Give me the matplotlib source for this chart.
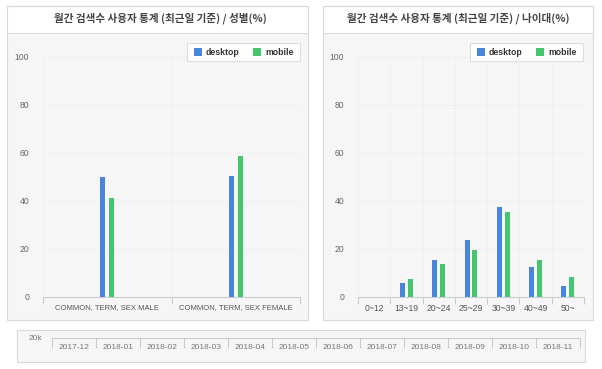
import matplotlib
matplotlib.use("Agg")
import matplotlib.pyplot as plt
from matplotlib.patches import Rectangle
import numpy as np

# ---------------- data ----------------
gender_categories = ["COMMON, TERM, SEX MALE", "COMMON, TERM, SEX FEMALE"]
gender_desktop = [50.0, 50.4]
gender_mobile = [41.3, 58.7]

age_categories = ["0~12", "13~19", "20~24", "25~29", "30~39", "40~49", "50~"]
age_desktop = [0.0, 6.0, 15.4, 23.8, 37.4, 12.6, 4.6]
age_mobile = [0.0, 7.6, 13.6, 19.6, 35.3, 15.4, 8.2]

months = ["2017-12", "2018-01", "2018-02", "2018-03", "2018-04", "2018-05",
          "2018-06", "2018-07", "2018-08", "2018-09", "2018-10", "2018-11"]
nav_label = "20k"

series_names = ["desktop", "mobile"]
yticks = [0, 20, 40, 60, 80, 100]

title_gender = "월간 검색수 사용자 통계 (최근일 기준) / 성별(%)"
title_age = "월간 검색수 사용자 통계 (최근일 기준) / 나이대(%)"

# ---------------- style ----------------
BLUE = "#4a85dc"
GREEN = "#45c66e"
BORDER = "#d9d9d9"
BODY = "#f6f6f6"
TXT = "#666666"
W, H = 602, 369

plt.rcParams['font.family'] = ['Noto Sans CJK KR', 'DejaVu Sans']

fig = plt.figure(figsize=(W / 100, H / 100), dpi=100)
fig.patch.set_facecolor("white")


def fr(x0, y0, x1, y1):
    """pixel box (top-left origin) -> figure fraction rect"""
    return [x0 / W, 1 - y1 / H, (x1 - x0) / W, (y1 - y0) / H]


def card(x0, y0, x1, y1, header=None):
    r = fr(x0 + 1, y0 + 1, x1 + 1, y1 + 1)
    fig.patches.append(Rectangle((r[0], r[1]), r[2], r[3], transform=fig.transFigure,
                                 facecolor="#ececec", edgecolor="none", zorder=-3))
    r = fr(x0, y0, x1, y1)
    fig.patches.append(Rectangle((r[0], r[1]), r[2], r[3], transform=fig.transFigure,
                                 facecolor=BODY, edgecolor=BORDER, lw=0.8, zorder=-2))
    if header is not None:
        r = fr(x0, y0, x1, header)
        fig.patches.append(Rectangle((r[0], r[1]), r[2], r[3], transform=fig.transFigure,
                                     facecolor="white", edgecolor=BORDER, lw=0.8, zorder=-1))


def legend(x0, y0):
    r = fr(x0, y0, x0 + 113, y0 + 18)
    fig.patches.append(Rectangle((r[0], r[1]), r[2], r[3], transform=fig.transFigure,
                                 facecolor="white", edgecolor="#dddddd", lw=0.8, zorder=5))
    items = [(BLUE, series_names[0], 7), (GREEN, series_names[1], 66)]
    for col, name, dx in items:
        r = fr(x0 + dx, y0 + 5, x0 + dx + 8, y0 + 13)
        fig.patches.append(Rectangle((r[0], r[1]), r[2], r[3], transform=fig.transFigure,
                                     facecolor=col, edgecolor="none", zorder=6))
        fig.text((x0 + dx + 12) / W, 1 - (y0 + 9.5) / H, name, fontsize=6.3,
                 fontweight="bold", color="#333333", va="center", ha="left",
                 family=["Liberation Sans", "DejaVu Sans"], zorder=7)


def bar_panel(rect, cats, d, m, width, offset, cat_fs):
    ax = fig.add_axes(rect)
    ax.set_zorder(1)
    ax.set_facecolor("none")
    n = len(cats)
    x = np.arange(n)
    ax.bar(x - offset, d, width=width, color=BLUE, zorder=3)
    ax.bar(x + offset, m, width=width, color=GREEN, zorder=3)
    ax.set_xlim(-0.5, n - 0.5)
    ax.set_ylim(0, 100)
    ax.set_yticks(yticks)
    ax.set_yticklabels([str(v) for v in yticks], fontsize=6.2, color=TXT,
                       family=["Liberation Sans", "DejaVu Sans"])
    ax.tick_params(axis="y", length=0, pad=10)
    ax.set_xticks(x)
    ax.set_xticklabels(cats, fontsize=cat_fs, color="#555555",
                       family=["Liberation Sans", "DejaVu Sans"])
    ax.tick_params(axis="x", which="major", length=0, pad=5)
    bounds = np.arange(n + 1) - 0.5
    ax.set_xticks(bounds, minor=True)
    ax.tick_params(axis="x", which="minor", length=5, color="#cccccc", width=0.8)
    for v in yticks[1:]:
        ax.axhline(v, color="#e4e4e4", lw=0.6, ls=(0, (1, 1.5)), zorder=1)
    for b in bounds:
        ax.axvline(b, color="#e8e8e8", lw=0.6, ls=(0, (1, 1.5)), zorder=1)
    for s in ["top", "right", "left"]:
        ax.spines[s].set_visible(False)
    ax.spines["bottom"].set_color("#cccccc")
    ax.spines["bottom"].set_linewidth(0.8)
    return ax


# ---------------- left card ----------------
card(7, 6, 308, 320, header=33)
fig.text(160 / W, 1 - 18.5 / H, title_gender, fontsize=7.6, fontweight="bold",
         color="#444444", ha="center", va="center")
bar_panel(fr(43, 57, 300, 297), gender_categories, gender_desktop, gender_mobile,
          width=0.039, offset=0.035, cat_fs=5.5)
legend(187, 43)

# ---------------- right card ----------------
card(323, 6, 593, 320, header=33)
fig.text(458 / W, 1 - 18.5 / H, title_age, fontsize=7.6, fontweight="bold",
         color="#444444", ha="center", va="center")
bar_panel(fr(358, 57, 584, 297), age_categories, age_desktop, age_mobile,
          width=0.155, offset=0.12, cat_fs=6.2)
legend(470, 43)

# ---------------- navigator card ----------------
card(17, 330, 585, 362)
nav = fig.add_axes(fr(52, 333, 580, 338))
nav.set_zorder(1)
nav.set_facecolor("none")
nav.set_xlim(0, len(months))
nav.set_ylim(0, 1)
nav.set_xticks(np.arange(len(months)) + 0.5)
nav.set_xticklabels(months, fontsize=6, color="#777777",
                    family=["Liberation Sans", "DejaVu Sans"])
nav.tick_params(axis="x", which="major", length=0, pad=4)
nav.set_xticks(np.arange(len(months) + 1), minor=True)
nav.tick_params(axis="x", which="minor", length=7, color="#cccccc", width=0.8)
nav.set_yticks([0])
nav.set_yticklabels([nav_label], fontsize=6, color="#777777",
                    family=["Liberation Sans", "DejaVu Sans"])
nav.tick_params(axis="y", length=0, pad=7)
for s in ["top", "right", "left"]:
    nav.spines[s].set_visible(False)
nav.spines["bottom"].set_color("#cccccc")
nav.spines["bottom"].set_linewidth(0.8)

fig.savefig("out.png", dpi=100, facecolor="white")
